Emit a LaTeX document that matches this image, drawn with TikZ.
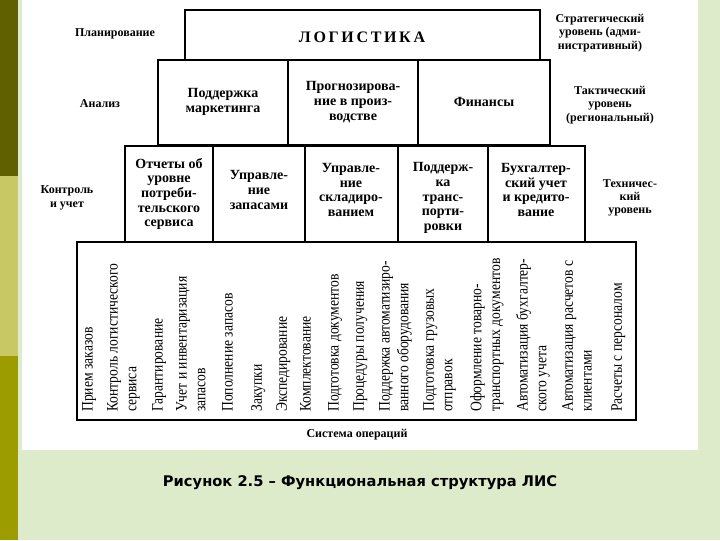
\documentclass[tikz,border=0pt]{standalone}
\usepackage{fontspec}
\setmainfont{Liberation Serif}
\newfontfamily\condf[FakeStretch=0.85]{Liberation Serif}
\newfontfamily\capfont{DejaVu Sans}
\definecolor{bgg}{RGB}{221,235,203}
\definecolor{ol1}{RGB}{96,96,0}
\definecolor{ol2}{RGB}{200,200,100}
\definecolor{ol3}{RGB}{156,156,0}
\begin{document}
\begin{tikzpicture}[x=0.75pt,y=-0.75pt,
  box/.style={draw,line width=1.2pt,inner sep=0pt},
  btxt/.style={align=center,font=\fontsize{10.5}{11}\selectfont\bfseries},
  side/.style={align=center,font=\fontsize{9}{10}\selectfont\bfseries},
  vt/.style={rotate=90,anchor=north west,align=left,inner sep=0pt,font=\condf\fontsize{12}{14}\selectfont}]
\useasboundingbox (0,0) rectangle (720,540);
\fill[bgg] (0,0) rectangle (720,540);
\fill[ol1] (0,0) rectangle (18,176);
\fill[ol2] (0,176) rectangle (18,356);
\fill[ol3] (0,356) rectangle (18,540);
\fill[white] (22,0) rectangle (698,450);
% boxes
\draw[box] (185,10) rectangle (540,60);
\node[font=\fontsize{12}{12}\selectfont\bfseries] (log) at (362,37) {Л\,О\,Г\,И\,С\,Т\,И\,К\,А};
\draw[box] (158,60) rectangle (288,145);
\draw[box] (288,60) rectangle (418,145);
\draw[box] (418,60) rectangle (550,145);
\node[btxt] (r21) at (223,102) {Поддержка\\маркетинга};
\node[btxt] (r22) at (353,102) {Прогнозирова-\\ние в произ-\\водстве};
\node[btxt] (r23) at (484,102) {Финансы};
\draw[box] (125,146) rectangle (213,242);
\draw[box] (213,146) rectangle (305,242);
\draw[box] (305,146) rectangle (398,242);
\draw[box] (398,146) rectangle (488,242);
\draw[box] (488,146) rectangle (585,242);
\node[btxt] (r31) at (169,194) {Отчеты об\\уровне\\потреби-\\тельского\\сервиса};
\node[btxt] (r32) at (259,190) {Управле-\\ние\\запасами};
\node[btxt] (r33) at (351,190) {Управле-\\ние\\складиро-\\ванием};
\node[btxt] (r34) at (443,198) {Поддерж-\\ка\\транс-\\порти-\\ровки};
\node[btxt] (r35) at (536,190) {Бухгалтер-\\ский учет\\и кредито-\\вание};
\draw[box] (77,242) rectangle (636,420);
\node[vt] (v1) at (82,412) {Прием заказов};
\node[vt] (v2) at (107,412) {Контроль логистического\\сервиса};
\node[vt] (v3) at (152,412) {Гарантирование};
\node[vt] (v4) at (176,412) {Учет и инвентаризация\\запасов};
\node[vt] (v5) at (222,412) {Пополнение запасов};
\node[vt] (v6) at (251,412) {Закупки};
\node[vt] (v7) at (276,412) {Экспедирование};
\node[vt] (v8) at (300,412) {Комплектование};
\node[vt] (v9) at (328,412) {Подготовка документов};
\node[vt] (v10) at (353,412) {Процедуры получения};
\node[vt] (v11) at (379,412) {Поддержка автоматизиро-\\ванного оборудования};
\node[vt] (v12) at (423,412) {Подготовка грузовых\\отправок};
\node[vt] (v13) at (470,412) {Оформление товарно-\\транспортных документов};
\node[vt] (v14) at (516,412) {Автоматизация бухгалтер-\\ского учета};
\node[vt] (v15) at (562,412) {Автоматизация расчетов с\\клиентами};
\node[vt] (v16) at (611,412) {Расчеты с персоналом};
% side labels
\node[side] (l1) at (115,34) {Планирование};
\node[side] (l2) at (100,104) {Анализ};
\node[side] (l3) at (67,198) {Контроль\\и учет};
\node[side] (s1) at (600,33) {Стратегический\\уровень (адми-\\нистративный)};
\node[side] (s2) at (610,105) {Тактический\\уровень\\(региональный)};
\node[side] (s3) at (630,198) {Техничес-\\кий\\уровень};
\node[side] (so) at (357,435) {Система операций};
\node[font=\capfont\bfseries\fontsize{11}{13}\selectfont] (cap) at (360,483) {Рисунок 2.5 – Функциональная структура ЛИС};
\end{tikzpicture}
\end{document}
